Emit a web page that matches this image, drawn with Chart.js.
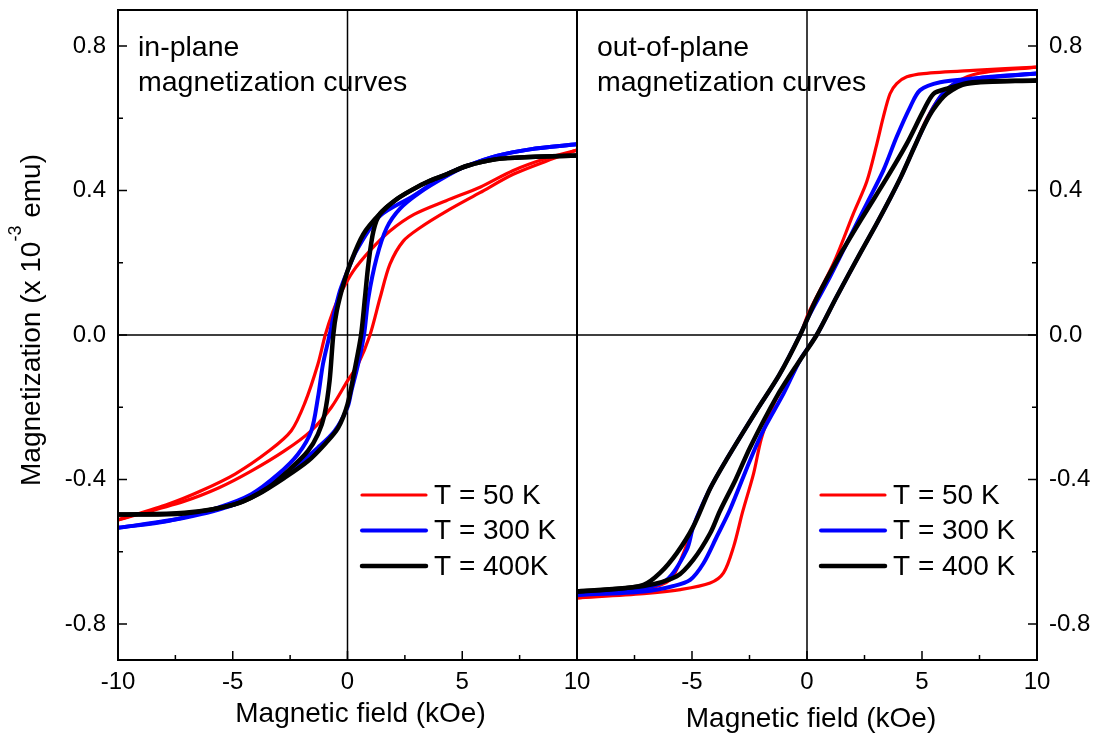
<!DOCTYPE html>
<html>
<head>
<meta charset="utf-8">
<script src="https://cdn.jsdelivr.net/npm/chart.js@4.4.0/dist/chart.umd.min.js"></script>
<style>
  html, body { margin: 0; padding: 0; background: #fff; }
  #wrap { position: relative; width: 1096px; height: 736px; overflow: hidden; }
  #wrap canvas { position: absolute; top: 0; }
  #inPlane { left: 0; }
  #outPlane { left: 557px; }
</style>
</head>
<body>
<div id="wrap">
  <canvas id="inPlane" width="600" height="736"></canvas>
  <canvas id="outPlane" width="539" height="736"></canvas>
</div>
<script>
// Legendas das curvas
const labelsIn = ["T = 50 K", "T = 300 K", "T = 400K"];
const labelsOut = ["T = 50 K", "T = 300 K", "T = 400 K"];

// In-plane: [campo kOe, M x1e-3 emu], ramo descendente (+10 -> -10) e ascendente (-10 -> +10)
const in50Down = [[10,0.512],[8.7,0.49],[7.2,0.455],[5.8,0.41],[4.3,0.372],[2.9,0.334],[1.85,0.288],[1.0,0.235],[0.25,0.177],[-0.3,0.115],[-0.65,0.062],[-0.97,0],[-1.29,-0.081],[-1.87,-0.19],[-2.45,-0.265],[-3.4,-0.32],[-4.9,-0.385],[-6.4,-0.432],[-7.8,-0.468],[-10,-0.512]];
const in50Up = [[-10,-0.512],[-7.1,-0.46],[-5.6,-0.423],[-4.2,-0.377],[-2.75,-0.321],[-1.6,-0.266],[-0.7,-0.2],[0,-0.127],[0.46,-0.081],[0.98,0],[1.42,0.103],[1.85,0.196],[2.43,0.26],[3.16,0.297],[4.32,0.343],[5.77,0.394],[7.22,0.445],[8.68,0.482],[10,0.512]];
const in300Down = [[10,0.528],[7.95,0.514],[6.5,0.496],[5.19,0.468],[4.32,0.445],[2.87,0.385],[1.42,0.33],[0.4,0.235],[0,0.177],[-0.33,0.122],[-0.62,0.048],[-0.78,0],[-1.07,-0.081],[-1.29,-0.174],[-1.58,-0.266],[-2.16,-0.33],[-3.03,-0.386],[-4.19,-0.441],[-5.64,-0.478],[-7.82,-0.515],[-10,-0.534]];
const in300Up = [[-10,-0.534],[-7.1,-0.506],[-4.92,-0.469],[-3.46,-0.414],[-2.16,-0.358],[-1.29,-0.312],[-0.56,-0.266],[0,-0.2],[0.17,-0.155],[0.46,-0.081],[0.72,0],[0.91,0.103],[1.27,0.214],[1.71,0.297],[2.29,0.35],[3.16,0.395],[4.32,0.44],[5.19,0.468],[6.5,0.496],[7.95,0.514],[10,0.528]];
const in400Down = [[10,0.497],[7.95,0.493],[6.5,0.487],[5.19,0.468],[4.32,0.445],[3.59,0.427],[2.87,0.404],[2.14,0.376],[1.42,0.336],[0.69,0.279],[0.11,0.196],[-0.18,0.14],[-0.47,0.066],[-0.62,0],[-0.78,-0.127],[-1.0,-0.22],[-1.29,-0.275],[-1.72,-0.321],[-2.45,-0.368],[-3.46,-0.423],[-4.92,-0.469],[-7.1,-0.492],[-10,-0.497]];
const in400Up = [[-10,-0.497],[-7.1,-0.494],[-4.92,-0.469],[-3.9,-0.441],[-2.74,-0.395],[-1.72,-0.349],[-1.0,-0.303],[-0.41,-0.257],[0,-0.192],[0.3,-0.1],[0.59,0],[0.76,0.103],[0.91,0.196],[1.13,0.288],[1.42,0.336],[2.14,0.376],[2.87,0.404],[3.59,0.427],[4.32,0.445],[5.19,0.468],[6.5,0.487],[7.95,0.493],[10,0.497]];

// Out-of-plane
const out50Down = [[10,0.742],[7.24,0.733],[5.07,0.724],[4.34,0.715],[3.9,0.696],[3.61,0.668],[3.32,0.604],[3.04,0.53],[2.6,0.425],[2.02,0.337],[1.15,0.198],[0.06,0.06],[-0.3,0],[-1.2,-0.11],[-2.2,-0.21],[-3.5,-0.345],[-4.21,-0.425],[-4.94,-0.53],[-5.37,-0.604],[-5.95,-0.678],[-7.11,-0.705],[-10,-0.728]];
const out50Up = [[-10,-0.728],[-7.1,-0.716],[-5.5,-0.705],[-4.21,-0.687],[-3.63,-0.659],[-3.19,-0.586],[-2.8,-0.49],[-2.32,-0.383],[-2.0,-0.29],[-1.6,-0.215],[-1.32,-0.175],[-0.3,-0.069],[0.42,0],[1.29,0.106],[2.31,0.226],[3.0,0.305],[3.61,0.378],[4.1,0.44],[4.63,0.515],[5.2,0.598],[5.79,0.66],[6.5,0.7],[7.5,0.725],[10,0.742]];
const out300Down = [[10,0.724],[7.24,0.71],[5.79,0.7],[4.92,0.678],[4.49,0.632],[3.9,0.549],[3.32,0.456],[2.6,0.364],[1.87,0.272],[1.0,0.161],[0.1,0.055],[-0.3,0],[-1.2,-0.11],[-2.2,-0.21],[-3.5,-0.345],[-4.21,-0.425],[-4.94,-0.53],[-5.23,-0.595],[-6.1,-0.678],[-7.5,-0.705],[-10,-0.72]];
const out300Up = [[-10,-0.72],[-7.1,-0.71],[-5.8,-0.695],[-5.08,-0.678],[-4.5,-0.632],[-3.92,-0.558],[-3.35,-0.484],[-2.47,-0.346],[-1.89,-0.263],[-1.01,-0.161],[-0.3,-0.069],[0.42,0],[1.29,0.106],[2.31,0.226],[3.0,0.305],[3.61,0.378],[4.1,0.44],[4.63,0.515],[5.1,0.58],[5.5,0.63],[5.9,0.668],[6.5,0.698],[7.5,0.712],[10,0.724]];
const out400Down = [[10,0.705],[7.2,0.7],[6.08,0.682],[5.5,0.668],[5.07,0.622],[4.34,0.53],[3.47,0.435],[2.5,0.335],[1.44,0.222],[0.42,0.102],[-0.3,0],[-1.2,-0.11],[-2.2,-0.21],[-3.5,-0.345],[-4.21,-0.425],[-4.94,-0.53],[-5.66,-0.604],[-6.39,-0.659],[-7.11,-0.692],[-8.57,-0.705],[-10,-0.71]];
const out400Up = [[-10,-0.71],[-7.11,-0.695],[-5.66,-0.668],[-4.94,-0.622],[-4.21,-0.549],[-3.79,-0.488],[-3.1,-0.4],[-2.48,-0.312],[-1.32,-0.171],[-0.3,-0.069],[0.42,0],[1.29,0.106],[2.31,0.226],[3.0,0.305],[3.61,0.378],[4.1,0.44],[4.63,0.515],[5.1,0.58],[5.5,0.625],[6.08,0.668],[6.96,0.696],[10,0.705]];

const FONT = '"Liberation Sans", Arial, sans-serif';
const colors = ["#ff0000", "#0000ff", "#000000"];
const widths = [3.2, 4, 4.5];

// Monta os datasets (um por ramo), preto por cima
function buildSets(loops, labels) {
  const sets = [];
  loops.forEach((pair, i) => {
    pair.forEach((pts, j) => {
      sets.push({
        label: labels[i],
        data: pts.map(p => ({ x: p[0], y: p[1] })),
        showLine: true,
        borderColor: colors[i],
        borderWidth: widths[i],
        pointRadius: 0,
        tension: 0.3,
        borderCapStyle: "round",
        borderJoinStyle: "round",
        order: 2 - i,
        legendRow: j === 0
      });
    });
  });
  return sets;
}

function fmtY(v) {
  return Math.abs(v) < 1e-9 ? "0.0" : v.toFixed(1);
}

// Moldura, ticks internos, linhas do zero, textos e legenda
const panelDeco = {
  id: "panelDeco",
  beforeDatasetsDraw(chart) {
    const { ctx, chartArea: a, scales: { x, y } } = chart;
    ctx.save();
    ctx.strokeStyle = "#000";
    ctx.lineWidth = 1.5;
    ctx.beginPath();
    const x0 = x.getPixelForValue(0), y0 = y.getPixelForValue(0);
    ctx.moveTo(x0, a.top); ctx.lineTo(x0, a.bottom);
    ctx.moveTo(a.left, y0); ctx.lineTo(a.right, y0);
    ctx.stroke();
    ctx.restore();
  },
  afterDraw(chart, args, o) {
    const { ctx, chartArea: a, scales: { x, y } } = chart;
    ctx.save();
    ctx.strokeStyle = "#000";
    ctx.fillStyle = "#000";
    ctx.lineWidth = 2;
    ctx.strokeRect(a.left, a.top, a.right - a.left, a.bottom - a.top);

    // ticks
    ctx.lineWidth = 1.5;
    ctx.beginPath();
    const xt = x.ticks.map(t => t.value);
    xt.forEach((v, i) => {
      const px = x.getPixelForValue(v);
      ctx.moveTo(px, a.bottom); ctx.lineTo(px, a.bottom - 9);
      if (i < xt.length - 1) {
        const pm = x.getPixelForValue((v + xt[i + 1]) / 2);
        ctx.moveTo(pm, a.bottom); ctx.lineTo(pm, a.bottom - 5);
      }
    });
    const yt = y.ticks.map(t => t.value);
    const edge = o.ySide === "left" ? a.left : a.right;
    const dir = o.ySide === "left" ? 1 : -1;
    yt.forEach((v, i) => {
      const py = y.getPixelForValue(v);
      ctx.moveTo(edge, py); ctx.lineTo(edge + dir * 9, py);
      if (i < yt.length - 1) {
        const pm = y.getPixelForValue((v + yt[i + 1]) / 2);
        ctx.moveTo(edge, pm); ctx.lineTo(edge + dir * 5, pm);
      }
    });
    ctx.stroke();

    // anotacao
    ctx.font = "28.5px " + FONT;
    ctx.textAlign = "left";
    ctx.textBaseline = "alphabetic";
    o.note.forEach((t, i) => ctx.fillText(t, a.left + 20, a.top + 46 + i * 35));

    // titulo do eixo x
    ctx.font = "28px " + FONT;
    ctx.textAlign = "center";
    ctx.fillText(o.xTitle, (a.left + a.right) / 2 + o.xShift, o.xBase);

    // legenda
    const rows = chart.data.datasets.filter(d => d.legendRow);
    ctx.textAlign = "left";
    ctx.textBaseline = "middle";
    rows.forEach((d, i) => {
      const cy = 495 + i * 35.5;
      ctx.strokeStyle = d.borderColor;
      ctx.lineWidth = d.borderWidth;
      ctx.lineCap = "round";
      ctx.beginPath();
      ctx.moveTo(a.left + 244, cy); ctx.lineTo(a.left + 308, cy);
      ctx.stroke();
      ctx.fillText(d.label, a.left + 316, cy + 1);
    });

    // titulo do eixo y com expoente
    if (o.yTitle) {
      ctx.save();
      ctx.translate(40, 320);
      ctx.rotate(-Math.PI / 2);
      ctx.textAlign = "left";
      ctx.textBaseline = "alphabetic";
      const parts = o.yTitle;
      let total = 0;
      parts.forEach(p => { ctx.font = p.size + "px " + FONT; p.w = ctx.measureText(p.text).width; total += p.w; });
      let pos = -total / 2;
      parts.forEach(p => { ctx.font = p.size + "px " + FONT; ctx.fillText(p.text, pos, p.dy); pos += p.w; });
      ctx.restore();
    }
    ctx.restore();
  }
};

function makeChart(id, loops, labels, side, deco, pad, yWidth, hideMin) {
  return new Chart(document.getElementById(id), {
    type: "scatter",
    data: { datasets: buildSets(loops, labels) },
    plugins: [panelDeco],
    options: {
      responsive: false,
      animation: false,
      events: [],
      layout: { padding: pad },
      plugins: { legend: { display: false }, tooltip: { enabled: false }, panelDeco: deco },
      scales: {
        x: {
          type: "linear", min: -10, max: 10,
          grid: { display: false, drawTicks: false },
          border: { display: false },
          ticks: {
            stepSize: 5, padding: 8, maxRotation: 0, autoSkip: false, color: "#000",
            font: { family: FONT, size: 24 },
            callback: v => (hideMin && v === -10) ? "" : String(v)
          },
          afterFit(s) { s.height = 76; s.paddingLeft = 0; s.paddingRight = 0; }
        },
        y: {
          type: "linear", min: -0.9, max: 0.9, position: side,
          grid: { display: false, drawTicks: false },
          border: { display: false },
          ticks: {
            stepSize: 0.4, includeBounds: false, padding: 12, color: "#000",
            font: { family: FONT, size: 24 },
            callback: fmtY
          },
          afterFit(s) { s.width = yWidth; s.paddingTop = 0; s.paddingBottom = 0; }
        }
      }
    }
  });
}

makeChart("inPlane",
  [[in50Down, in50Up], [in300Down, in300Up], [in400Down, in400Up]], labelsIn, "left",
  {
    ySide: "left",
    note: ["in-plane", "magnetization curves"],
    xTitle: "Magnetic field (kOe)", xShift: 13, xBase: 722,
    yTitle: [
      { text: "Magnetization (x 10", size: 28, dy: 0 },
      { text: "-3", size: 18, dy: -19 },
      { text: " emu)", size: 28, dy: 0 }
    ]
  },
  { top: 10, right: 23, left: 0, bottom: 0 }, 118, false);

makeChart("outPlane",
  [[out50Down, out50Up], [out300Down, out300Up], [out400Down, out400Up]], labelsOut, "right",
  {
    ySide: "right",
    note: ["out-of-plane", "magnetization curves"],
    xTitle: "Magnetic field (kOe)", xShift: 4, xBase: 727
  },
  { top: 10, right: 0, left: 20, bottom: 0 }, 59, true);
</script>
</body>
</html>
